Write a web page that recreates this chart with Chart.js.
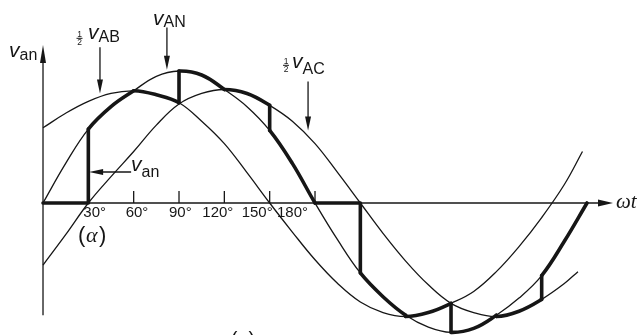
<!DOCTYPE html>
<html>
<head>
<meta charset="utf-8">
<script src="https://cdn.jsdelivr.net/npm/chart.js"></script>
<style>
    html, body { margin: 0; padding: 0; background: #fff; }
</style>
</head>
<body>
<canvas id="graficoOnda" width="639" height="335"></canvas>
<script>
// Waveforms, in per-unit of the v_AN peak, every 15 degrees
const anDegrees = [0, 15, 30, 45, 60, 75, 90, 105, 120, 135, 150, 165, 180, 195, 210, 225, 240, 255, 270, 285, 300, 315, 330, 345, 360];
const vAN = [0, 0.30, 0.56, 0.73, 0.85, 0.96, 1.00, 0.97, 0.86, 0.73, 0.55, 0.30, 0, -0.28, -0.53, -0.71, -0.85, -0.94, -0.98, -0.95, -0.85, -0.72, -0.55, -0.29, 0];

const abDegrees = [0, 15, 30, 45, 60, 75, 90, 105, 120, 135, 150, 165, 180, 195, 210, 225, 240, 255, 270, 285, 300, 315, 330, 345, 357];
const halfVAB = [0.57, 0.68, 0.77, 0.83, 0.85, 0.82, 0.76, 0.62, 0.45, 0.23, 0, -0.22, -0.43, -0.61, -0.75, -0.83, -0.86, -0.83, -0.76, -0.67, -0.52, -0.33, -0.11, 0.14, 0.39];

const acDegrees = [0, 15, 30, 45, 60, 75, 90, 105, 120, 135, 150, 165, 180, 195, 210, 225, 240, 255, 270, 285, 300, 315, 330, 345, 354];
const halfVAC = [-0.47, -0.24, 0, 0.20, 0.39, 0.59, 0.75, 0.83, 0.86, 0.83, 0.74, 0.62, 0.45, 0.23, 0, -0.23, -0.44, -0.62, -0.76, -0.83, -0.86, -0.82, -0.73, -0.61, -0.52];

// Which voltage v_an follows in each 30 degree interval (alpha = 30)
const intervalDeg = 30;
const vanSource = ['zero', 'AN', 'AB', 'AN', 'AC', 'AN', 'zero', 'AN', 'AB', 'AN', 'AC', 'AN'];

// Axis ticks
const tickDegrees = [30, 60, 90, 120, 150, 180];
const tickLabels = ['30°', '60°', '90°', '120°', '150°', '180°'];

const ink = '#161616';
const sans = '"Liberation Sans", Arial, sans-serif';
const serif = '"Liberation Serif", "Times New Roman", serif';

const curves = {
    AN: { deg: anDegrees, val: vAN },
    AB: { deg: abDegrees, val: halfVAB },
    AC: { deg: acDegrees, val: halfVAC }
};
const toPoints = c => c.deg.map((x, i) => ({ x, y: c.val[i] }));
const valueAt = (src, d) => src === 'zero' ? 0 : curves[src].val[curves[src].deg.indexOf(d)];

function thinSet(key) {
    return { data: toPoints(curves[key]), borderColor: ink, borderWidth: 1.3, tension: 0.4, pointRadius: 0 };
}

// same curve again, only drawn thick where v_an runs along it
function thickSet(key) {
    return {
        data: toPoints(curves[key]),
        borderColor: ink,
        borderWidth: 3.6,
        borderCapStyle: 'round',
        tension: 0.4,
        pointRadius: 0,
        segment: {
            borderColor: ctx => {
                const i = Math.floor(ctx.p0.parsed.x / intervalDeg);
                return vanSource[i] === key && ctx.p1.parsed.x <= (i + 1) * intervalDeg ? ink : 'transparent';
            }
        }
    };
}

// zero stretches and the vertical jumps of v_an
const steps = [];
vanSource.forEach((src, i) => {
    const a = i * intervalDeg;
    const before = i ? valueAt(vanSource[i - 1], a) : 0;
    const after = valueAt(src, a);
    if (before !== after) steps.push({ x: a, y: before }, { x: a, y: after }, { x: a, y: null });
    if (src === 'zero') steps.push({ x: a, y: 0 }, { x: a + intervalDeg, y: 0 }, { x: a + intervalDeg, y: null });
});

function arrowHead(ctx, tx, ty, dx, dy, len, half) {
    const bx = tx - dx * len, by = ty - dy * len;
    ctx.beginPath();
    ctx.moveTo(tx, ty);
    ctx.lineTo(bx - dy * half, by + dx * half);
    ctx.lineTo(bx + dy * half, by - dx * half);
    ctx.closePath();
    ctx.fill();
}

function arrow(ctx, x1, y1, x2, y2, len, half) {
    const L = Math.hypot(x2 - x1, y2 - y1), dx = (x2 - x1) / L, dy = (y2 - y1) / L;
    ctx.beginPath();
    ctx.moveTo(x1, y1);
    ctx.lineTo(x2 - dx * len * 0.5, y2 - dy * len * 0.5);
    ctx.stroke();
    arrowHead(ctx, x2, y2, dx, dy, len, half);
}

function vText(ctx, x, base, sub, drop) {
    ctx.font = 'italic 21px ' + sans;
    ctx.fillText('v', x, base);
    const w = ctx.measureText('v').width;
    ctx.font = '16px ' + sans;
    ctx.fillText(sub, x + w, base + drop);
}

function half(ctx, cx, top) {
    ctx.font = '8.5px ' + sans;
    ctx.textAlign = 'center';
    ctx.fillText('1', cx, top + 6);
    ctx.fillText('2', cx, top + 13.5);
    ctx.lineWidth = 1;
    ctx.beginPath();
    ctx.moveTo(cx - 3, top + 7.3);
    ctx.lineTo(cx + 3, top + 7.3);
    ctx.stroke();
    ctx.textAlign = 'left';
}

// arrows that point at the curves, in (degrees, per-unit)
const pointers = [
    { from: [37.7, 1.18], to: [37.7, 0.83] },
    { from: [82, 1.33], to: [82, 1.01] },
    { from: [175.4, 0.92], to: [175.4, 0.55] },
    { from: [58.3, 0.235], to: [30.5, 0.235] }
];
const labelShift = [-5, -8, -10, -22, -28, -38];

const decor = {
    id: 'decor',
    beforeDatasetsDraw(chart) {
        const { ctx, scales: { x, y } } = chart;
        const ox = x.getPixelForValue(0), oy = y.getPixelForValue(0);
        ctx.save();
        ctx.strokeStyle = ink;
        ctx.fillStyle = ink;
        ctx.lineWidth = 1.3;

        // x axis
        const xEnd = x.getPixelForValue(377.2);
        ctx.beginPath();
        ctx.moveTo(ox, oy);
        ctx.lineTo(xEnd - 8, oy);
        ctx.stroke();
        arrowHead(ctx, xEnd, oy, 1, 0, 15, 3.5);

        // y axis
        const yTop = y.getPixelForValue(1.197), yBot = y.getPixelForValue(-0.85);
        ctx.beginPath();
        ctx.moveTo(ox, yBot);
        ctx.lineTo(ox, yTop + 8);
        ctx.stroke();
        arrowHead(ctx, ox, yTop, 0, -1, 18, 3);

        // tick marks sit above the axis, labels below
        ctx.font = '15px ' + sans;
        ctx.textAlign = 'left';
        tickDegrees.forEach((d, i) => {
            const p = x.getPixelForValue(d);
            ctx.beginPath();
            ctx.moveTo(p, oy - 12);
            ctx.lineTo(p, oy);
            ctx.stroke();
            ctx.fillText(tickLabels[i], p + labelShift[i], oy + 14);
        });
        ctx.restore();
    },
    afterDatasetsDraw(chart) {
        const { ctx, scales: { x, y } } = chart;
        ctx.save();
        ctx.strokeStyle = ink;
        ctx.fillStyle = ink;
        ctx.lineWidth = 1.3;
        pointers.forEach(p => {
            arrow(ctx, x.getPixelForValue(p.from[0]), y.getPixelForValue(p.from[1]),
                x.getPixelForValue(p.to[0]), y.getPixelForValue(p.to[1]), 14, 3);
        });

        ctx.textAlign = 'left';
        ctx.textBaseline = 'alphabetic';
        vText(ctx, 9, 57, 'an', 3);
        vText(ctx, 131, 171, 'an', 6);
        vText(ctx, 153, 25, 'AN', 2);
        vText(ctx, 88, 39, 'AB', 3);
        half(ctx, 79.5, 31);
        vText(ctx, 292, 68, 'AC', 6);
        half(ctx, 286, 58);

        // (α)
        ctx.font = '22px ' + sans;
        ctx.fillText('(', 78, 242);
        ctx.font = 'italic 22px ' + serif;
        ctx.fillText('α', 86, 242);
        ctx.font = '22px ' + sans;
        ctx.fillText(')', 99, 242);

        ctx.font = 'italic 21px ' + serif;
        ctx.fillText('ωt', 616, 208);

        ctx.font = '20px ' + sans;
        ctx.textAlign = 'center';
        ctx.textBaseline = 'top';
        ctx.fillText('(a)', 243, 330);
        ctx.restore();
    }
};

new Chart(document.getElementById('graficoOnda'), {
    type: 'line',
    data: {
        datasets: [
            thinSet('AN'),
            thinSet('AB'),
            thinSet('AC'),
            thickSet('AN'),
            thickSet('AB'),
            thickSet('AC'),
            { data: steps, borderColor: ink, borderWidth: 3.6, borderCapStyle: 'round', tension: 0, pointRadius: 0, spanGaps: false }
        ]
    },
    options: {
        responsive: false,
        animation: false,
        events: [],
        layout: { padding: 0 },
        plugins: {
            legend: { display: false },
            tooltip: { enabled: false }
        },
        scales: {
            x: { type: 'linear', display: false, min: -28.46, max: 394.4 },
            y: { display: false, min: -1.0, max: 1.538 }
        }
    },
    plugins: [decor]
});
</script>
</body>
</html>
